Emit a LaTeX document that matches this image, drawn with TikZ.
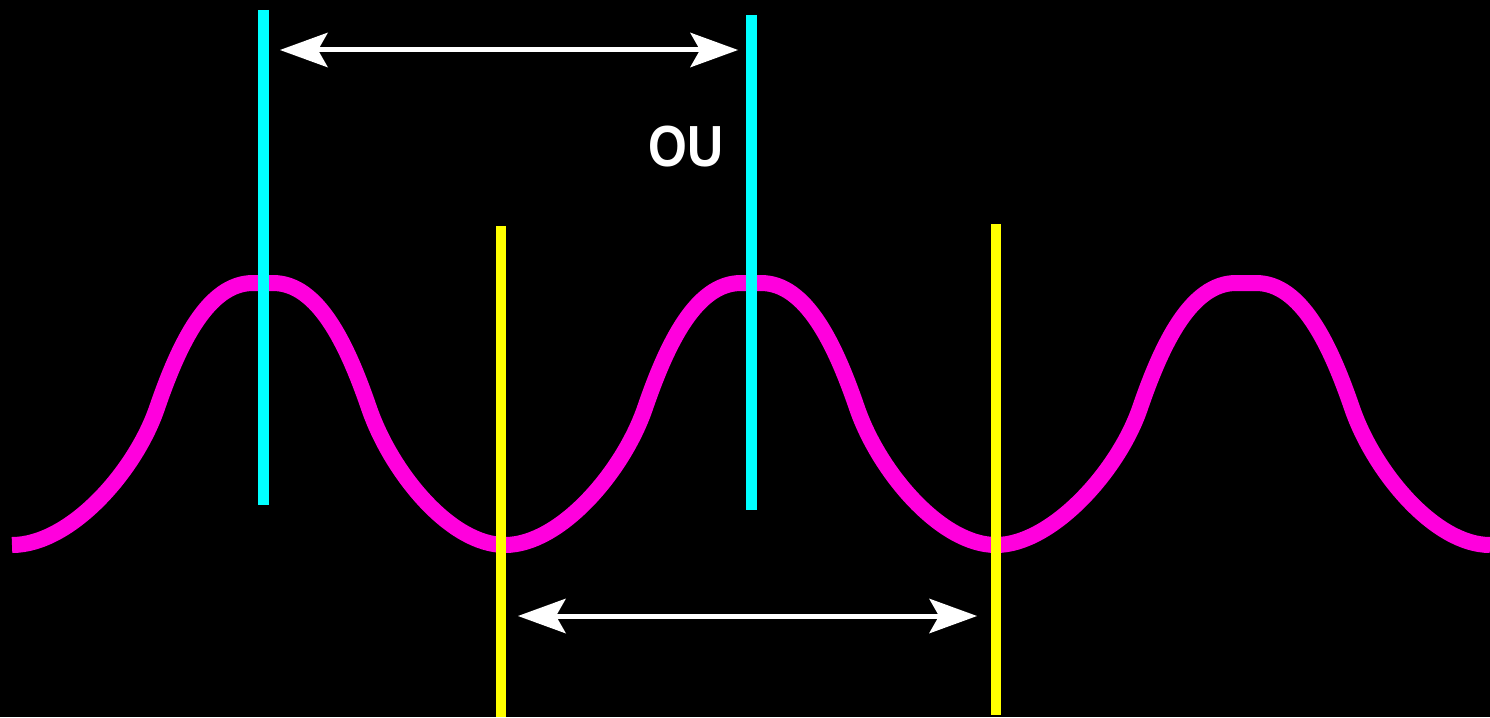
\documentclass[tikz,border=0pt]{standalone}
\usepackage{fontspec}
\usepackage{tikz}
\usetikzlibrary{arrows.meta, positioning, calc}
\newfontfamily\labelfont{Liberation Sans}
\definecolor{wavemagenta}{HTML}{FF00DD}
\definecolor{peakcyan}{HTML}{00FFFF}
\definecolor{troughyellow}{HTML}{FFFF00}

\begin{document}
\begin{tikzpicture}[
                x=1pt, y=-1pt,
                wave/.style={draw=wavemagenta, line width=16pt},
                peakline/.style={draw=peakcyan, line width=11pt},
                troughline/.style={draw=troughyellow, line width=10pt},
                dimarrow/.style={draw=white, line width=5pt, {Stealth[length=48pt, width=35pt, inset=10pt, line width=0pt]}-{Stealth[length=48pt, width=35pt, inset=10pt, line width=0pt]}},
                oulabel/.style={text=white, font=\labelfont\bfseries\fontsize{58}{58}\selectfont, xscale=0.86, inner sep=0pt}
            ]

            % Hintergrund
            \fill[black] (0,0) rectangle (1490,717);
            \useasboundingbox (0,0) rectangle (1490,717);

            % Welle
            \draw[wave] (12,545) .. controls (70,545) and (135,472) .. (157,408)
                .. controls (179,344) and (208,283) .. (253,283) -- (273,283)
                .. controls (318,283) and (347,344) .. (369,408)
                .. controls (391,472) and (450,545) .. (505,545)
                .. controls (560,545) and (623,472) .. (645,408)
                .. controls (667,344) and (696,283) .. (741,283) -- (761,283)
                .. controls (806,283) and (835,344) .. (857,408)
                .. controls (879,472) and (941,545) .. (996,545)
                .. controls (1051,545) and (1118,472) .. (1140,408)
                .. controls (1162,344) and (1191,283) .. (1236,283) -- (1256,283)
                .. controls (1301,283) and (1330,344) .. (1352,408)
                .. controls (1374,472) and (1435,545) .. (1490,545);

            % Linien
            \coordinate (peakA-top) at (263,10);
            \coordinate (peakA-bot) at (263,505);
            \coordinate (peakB-top) at (751,15);
            \coordinate (peakB-bot) at (751,510);
            \coordinate (troughA-top) at (501,226);
            \coordinate (troughA-bot) at (501,717);
            \coordinate (troughB-top) at (996,224);
            \coordinate (troughB-bot) at (996,715);
            \draw[peakline] (peakA-top) -- (peakA-bot);
            \draw[peakline] (peakB-top) -- (peakB-bot);
            \draw[troughline] (troughA-top) -- (troughA-bot);
            \draw[troughline] (troughB-top) -- (troughB-bot);

            % Pfeile
            \coordinate (top-l) at (280,50);
            \coordinate (top-r) at (738,50);
            \coordinate (bot-l) at (518,616);
            \coordinate (bot-r) at (977,616);
            \draw[dimarrow] (top-l) -- (top-r);
            \draw[dimarrow] (bot-l) -- (bot-r);

            % Beschriftung
            \node[oulabel] (ou) at (686,147) {OU};

        \end{tikzpicture}
\end{document}
